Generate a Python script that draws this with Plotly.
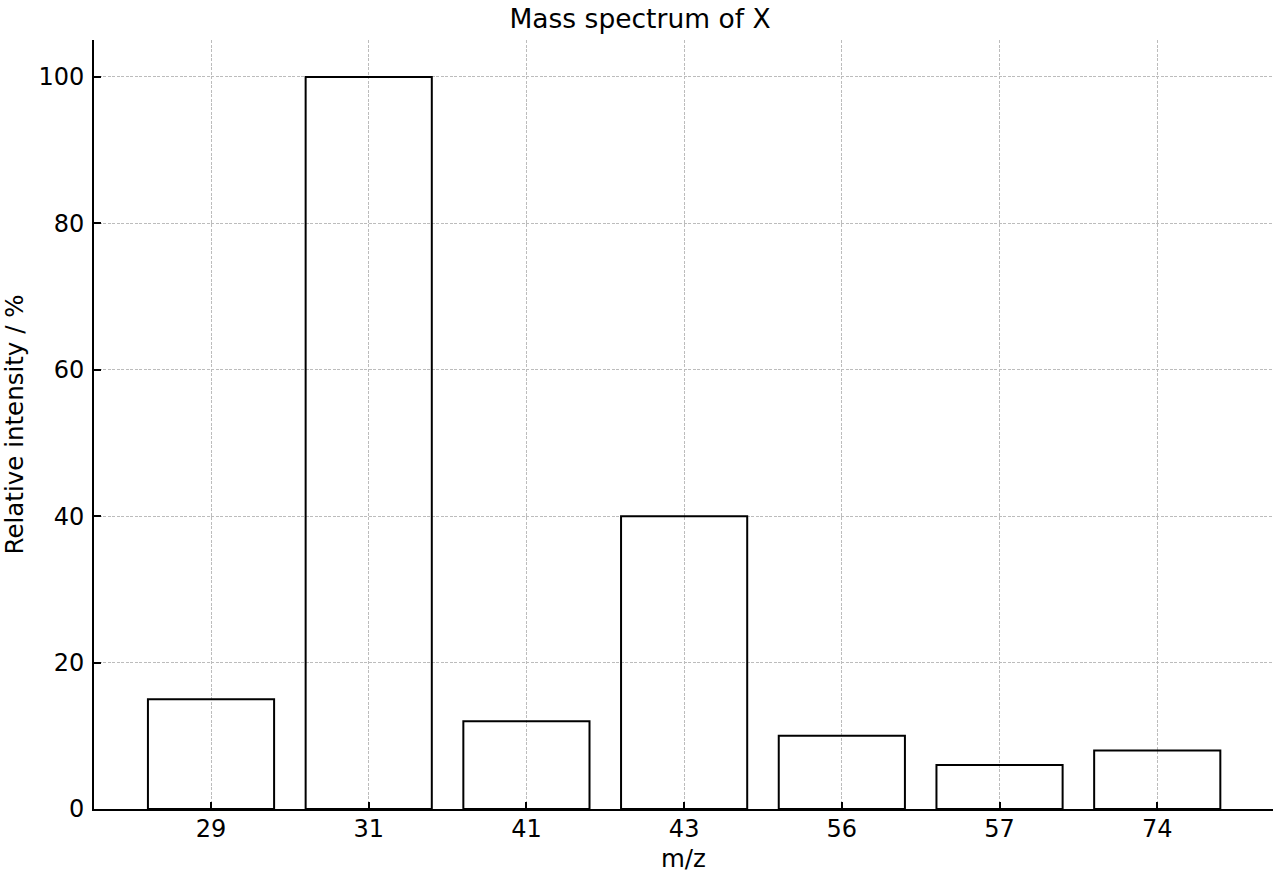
import plotly.graph_objects as go

mz_labels = ["29", "31", "41", "43", "56", "57", "74"]
intensity = [15, 100, 12, 40, 10, 6, 8]
y_ticks = [0, 20, 40, 60, 80, 100]

fig = go.Figure()
fig.add_trace(go.Bar(
    x=mz_labels, y=intensity, width=0.8,
    marker=dict(color="rgba(255,255,255,0)", line=dict(color="black", width=2)),
))

FAM = "DejaVu Sans"
tick_font = dict(family=FAM, size=24, color="black")
label_font = dict(family=FAM, size=24.5, color="black")
title_font = dict(family=FAM, size=26.5, color="black")

fig.update_layout(
    template="none",
    width=1280, height=880,
    margin=dict(l=94, r=7, t=40, b=71),
    paper_bgcolor="white", plot_bgcolor="white",
    font=tick_font,
    showlegend=False,
    title=dict(text="Mass spectrum of X", x=0.5, xanchor="center",
               y=1 - 19 / 880, yanchor="middle", font=title_font),
)
common = dict(
    showline=True, linecolor="black", linewidth=2,
    ticks="inside", ticklen=7, tickwidth=1.5, tickcolor="black",
    tickfont=tick_font,
    showgrid=True, gridcolor="#bcbcbc", griddash="3px,1.5px", gridwidth=0.9,
    zeroline=False, mirror=False,
)
fig.update_xaxes(
    type="category", range=[-0.742, 6.734],
    title=dict(text="m/z", standoff=8, font=label_font),
    ticklabelstandoff=-3,
    **common,
)
fig.update_yaxes(
    range=[0, 105.05], tickvals=y_ticks,
    title=dict(text="Relative intensity / %", standoff=10, font=label_font),
    ticklabelstandoff=3,
    **common,
)
fig.write_html("out.html")
